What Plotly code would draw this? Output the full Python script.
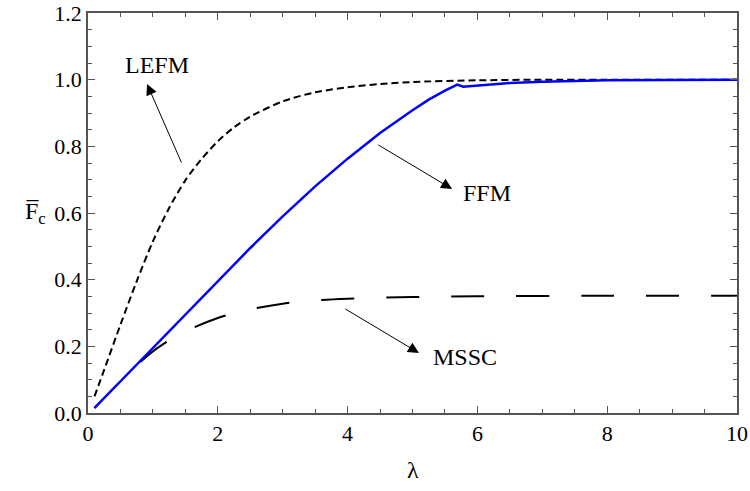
import plotly.graph_objects as go

# ---- data ----
lefm_x = [0.1, 0.25, 0.5, 0.75, 1.0, 1.25, 1.5, 1.75, 2.0, 2.25, 2.5, 3.0, 3.5, 4.0, 4.5, 5.0, 6.0, 7.0, 8.0, 10.0]
lefm_y = [0.05, 0.13, 0.265, 0.395, 0.515, 0.615, 0.698, 0.762, 0.815, 0.857, 0.889, 0.935, 0.962, 0.977, 0.987, 0.993, 0.998, 1.0, 1.0, 1.0]

ffm_x = [0.1, 0.5, 1.0, 1.5, 2.0, 2.5, 3.0, 3.5, 4.0, 4.5, 5.0, 5.25, 5.5, 5.69, 5.78, 6.0, 6.5, 7.0, 8.0, 9.0, 10.0]
ffm_y = [0.015, 0.095, 0.195, 0.295, 0.396, 0.495, 0.590, 0.680, 0.763, 0.840, 0.908, 0.94, 0.967, 0.985, 0.979, 0.983, 0.99, 0.994, 0.998, 0.999, 1.0]

mssc_x = [0.1, 0.5, 0.8, 1.0, 1.25, 1.5, 2.0, 2.5, 3.0, 3.5, 4.0, 5.0, 6.0, 8.0, 10.0]
mssc_y = [0.015, 0.095, 0.152, 0.185, 0.218, 0.245, 0.285, 0.311, 0.328, 0.338, 0.343, 0.348, 0.350, 0.352, 0.352]

x_ticks = [0, 2, 4, 6, 8, 10]
y_ticks = [0.0, 0.2, 0.4, 0.6, 0.8, 1.0, 1.2]

FONT = "Liberation Serif, Times New Roman, serif"
AX = "#555555"

fig = go.Figure()
fig.add_trace(go.Scatter(x=lefm_x, y=lefm_y, mode="lines",
                         line=dict(color="black", width=2, dash="7px,4px",
                                   shape="spline", smoothing=0.8)))
fig.add_trace(go.Scatter(x=mssc_x, y=mssc_y, mode="lines",
                         line=dict(color="black", width=2, dash="33px,32px",
                                   shape="spline", smoothing=0.8)))
fig.add_trace(go.Scatter(x=ffm_x, y=ffm_y, mode="lines",
                         line=dict(color="#0000ff", width=2.5)))

axis_common = dict(
    showgrid=False, zeroline=False, showline=True, linecolor=AX, linewidth=1.5,
    mirror="ticks", ticks="inside", ticklen=7, tickwidth=1, tickcolor=AX,
    tickfont=dict(family=FONT, size=22, color="black"), automargin=False,
)
fig.update_xaxes(range=[0, 10], tickvals=x_ticks, ticktext=[str(v) for v in x_ticks],
                 minor=dict(dtick=0.5, ticks="inside", ticklen=4, tickcolor=AX),
                 **axis_common)
fig.update_yaxes(range=[0, 1.2], tickvals=y_ticks, ticktext=[f"{v:.1f}" for v in y_ticks],
                 minor=dict(dtick=0.05, ticks="inside", ticklen=4, tickcolor=AX),
                 **axis_common)

ann_font = dict(family=FONT, size=24, color="black")
arrows = [
    # text, text_x, text_y, head_x, head_y, tail_x, tail_y
    ("LEFM", 1.06, 1.044, 0.91, 0.987, 1.45, 0.747),
    ("FFM", 6.15, 0.66, 5.61, 0.672, 4.45, 0.807),
    ("MSSC", 5.81, 0.168, 5.10, 0.18, 3.94, 0.315),
]
for txt, tx, ty, hx, hy, sx, sy in arrows:
    fig.add_annotation(x=tx, y=ty, text=txt, showarrow=False, font=ann_font,
                       xanchor="center", yanchor="middle")
    fig.add_annotation(x=hx, y=hy, ax=sx, ay=sy, axref="x", ayref="y", text="",
                       showarrow=True, arrowhead=2, arrowsize=2.2, arrowwidth=1,
                       arrowcolor="black", standoff=0, startstandoff=0)

fig.add_annotation(x=-0.1, y=0.6, xref="paper", yref="y", text="F\u0305<sub>c</sub>",
                   showarrow=False, font=dict(family=FONT, size=24, color="black"),
                   yanchor="middle")
fig.add_annotation(x=5, y=-0.1425, xref="x", yref="paper", text="λ", showarrow=False,
                   font=dict(family=FONT, size=24, color="black"), yanchor="middle")

fig.update_layout(width=750, height=491, showlegend=False,
                  margin=dict(l=88, r=13, t=13, b=78, autoexpand=False),
                  plot_bgcolor="white", paper_bgcolor="white")
fig.write_html("out.html", config={"displayModeBar": False},
               post_script="document.body.style.margin='0';document.body.style.overflow='hidden';")
